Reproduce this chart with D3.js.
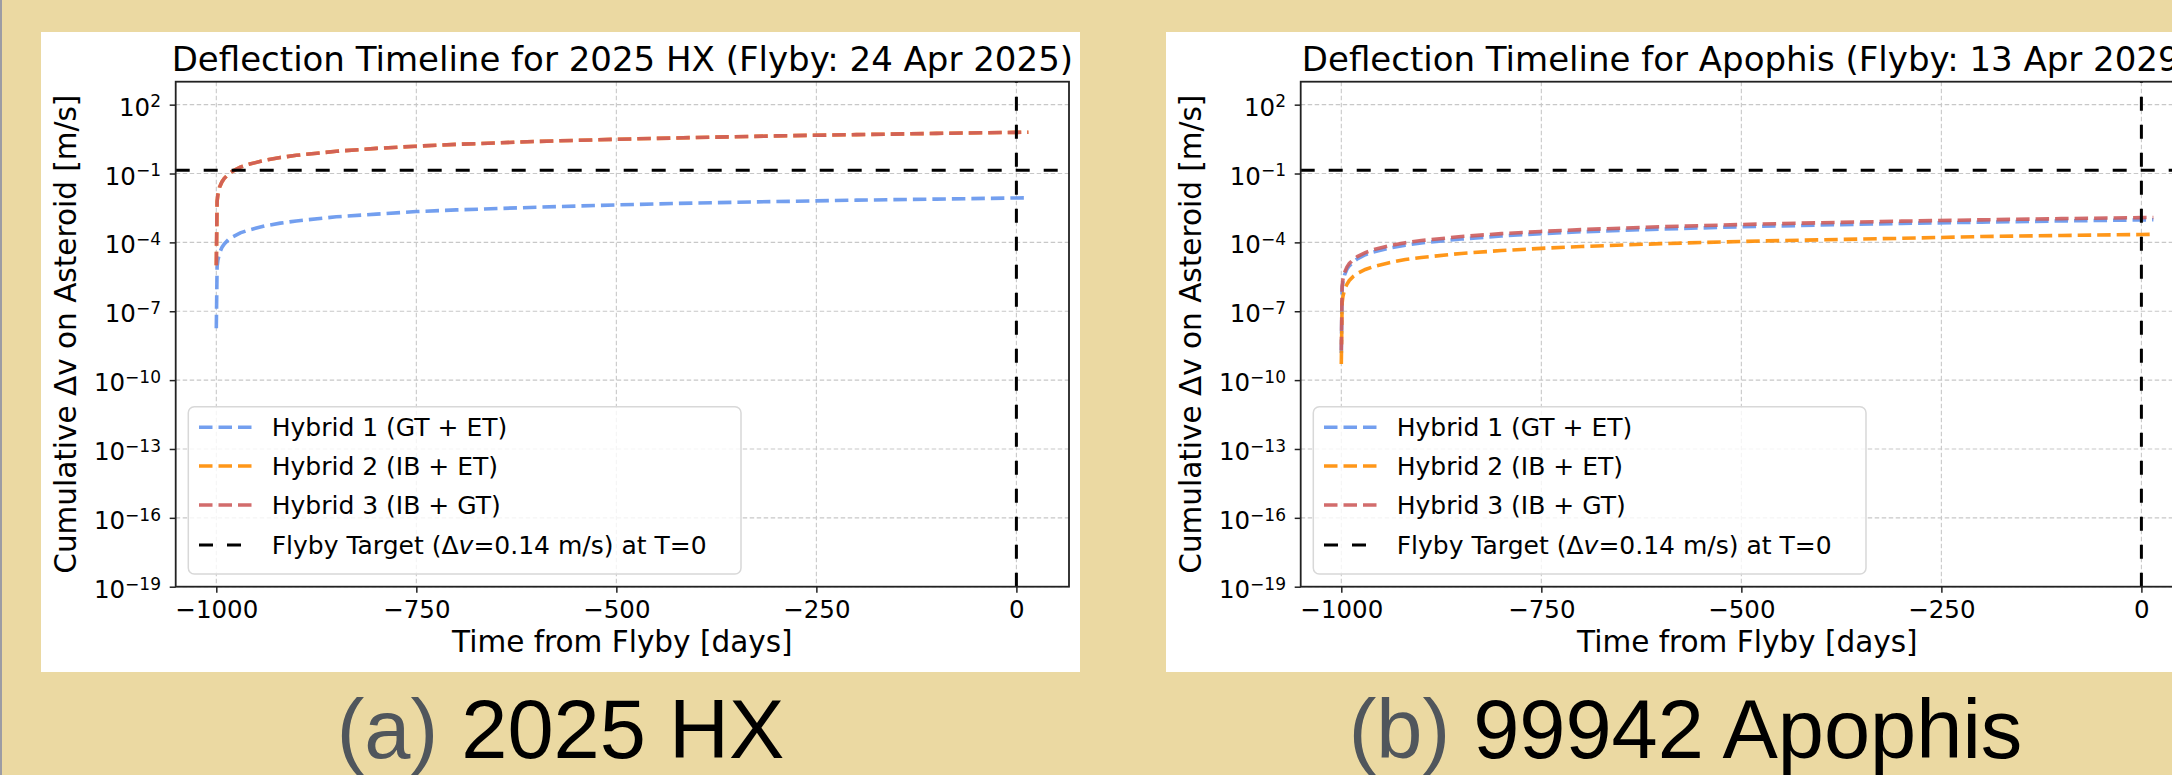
<!DOCTYPE html>
<html lang="en">
<head>
<meta charset="UTF-8">
<script src="https://d3js.org/d3.v7.min.js"></script>
<style>
  html, body { margin: 0; padding: 0; overflow: hidden; background: #ebd9a2; }
  svg { display: block; }
  text { font-family: "DejaVu Sans", sans-serif; }
</style>
</head>
<body>
<script>

// sample days (time from flyby) shared by every series
const days = [-1000, -999, -998, -996, -993, -990, -985, -980, -970, -960, -940, -920, -900,
              -850, -800, -750, -700, -600, -500, -400, -300, -200, -100, 0, 15];

// 2025 HX, cumulative dv [m/s]
const hxHybrid1 = [1.8e-8, 8.6e-6, 1.7e-5, 3.4e-5, 6e-5, 8.6e-5, 1.3e-4, 1.7e-4, 2.6e-4, 3.4e-4, 5.2e-4, 6.9e-4, 8.6e-4,
                   1.3e-3, 1.7e-3, 2.2e-3, 2.6e-3, 3.4e-3, 4.3e-3, 5.2e-3, 6.0e-3, 6.9e-3, 7.7e-3, 8.6e-3, 8.7e-3];
const hxHybrid2 = [1e-5, 6.2e-3, 1.2e-2, 2.5e-2, 4.3e-2, 6.2e-2, 9.3e-2, 0.124, 0.19, 0.25, 0.37, 0.5, 0.62,
                   0.93, 1.24, 1.55, 1.86, 2.5, 3.1, 3.7, 4.35, 4.95, 5.6, 6.2, 6.3];
const hxHybrid3 = [1e-5, 6.2e-3, 1.2e-2, 2.5e-2, 4.3e-2, 6.2e-2, 9.3e-2, 0.124, 0.19, 0.25, 0.37, 0.5, 0.62,
                   0.93, 1.24, 1.55, 1.86, 2.5, 3.1, 3.7, 4.35, 4.95, 5.6, 6.2, 6.3];

// 99942 Apophis, cumulative dv [m/s]
const apHybrid1 = [1.5e-9, 9.5e-7, 1.9e-6, 3.8e-6, 6.7e-6, 9.5e-6, 1.4e-5, 1.9e-5, 2.9e-5, 3.8e-5, 5.7e-5, 7.6e-5, 9.5e-5,
                   1.4e-4, 1.9e-4, 2.4e-4, 2.9e-4, 3.8e-4, 4.8e-4, 5.7e-4, 6.7e-4, 7.6e-4, 8.6e-4, 9.5e-4, 9.7e-4];
const apHybrid2 = [5e-10, 2.2e-7, 4.4e-7, 8.8e-7, 1.5e-6, 2.2e-6, 3.3e-6, 4.4e-6, 6.6e-6, 8.8e-6, 1.3e-5, 1.8e-5, 2.2e-5,
                   3.3e-5, 4.4e-5, 5.5e-5, 6.6e-5, 8.8e-5, 1.1e-4, 1.3e-4, 1.5e-4, 1.8e-4, 2.0e-4, 2.2e-4, 2.25e-4];
const apHybrid3 = [2e-9, 1.2e-6, 2.4e-6, 4.8e-6, 8.4e-6, 1.2e-5, 1.8e-5, 2.4e-5, 3.6e-5, 4.8e-5, 7.2e-5, 9.6e-5, 1.2e-4,
                   1.8e-4, 2.4e-4, 3.0e-4, 3.6e-4, 4.8e-4, 6.0e-4, 7.2e-4, 8.4e-4, 9.6e-4, 1.08e-3, 1.2e-3, 1.22e-3];

const seriesNames = ["Hybrid 1 (GT + ET)", "Hybrid 2 (IB + ET)", "Hybrid 3 (IB + GT)"];
const seriesColors = ["#6495ed", "#ff8c00", "#cd5c5c"];
const targetDv = 0.14;

const xTicks = [-1000, -750, -500, -250, 0];
const yTickExps = [2, -1, -4, -7, -10, -13, -16, -19];

const panels = [
  { title: "Deflection Timeline for 2025 HX (Flyby: 24 Apr 2025)", tag: "(a)", caption: " 2025 HX",
    series: [hxHybrid1, hxHybrid2, hxHybrid3] },
  { title: "Deflection Timeline for Apophis (Flyby: 13 Apr 2029)", tag: "(b)", caption: " 99942 Apophis",
    series: [apHybrid1, apHybrid2, apHybrid3] }
];

// layout
const W = 2172, H = 775;
const panelX = [41, 1166], panelY = 32, panelW = 1039, panelH = 640;
const axL = 134.7, axT = 49.7, axW = 893.3, axH = 505;

const svg = d3.select("body").append("svg").attr("width", W).attr("height", H);
svg.append("rect").attr("width", W).attr("height", H).attr("fill", "#ebd9a2");
svg.append("rect").attr("width", 2).attr("height", H).attr("fill", "#9c9ca4");

const fmtExp = e => (e < 0 ? "\u2212" + (-e) : "" + e);

panels.forEach((p, i) => {
  const g = svg.append("g").attr("transform", `translate(${panelX[i]},${panelY})`);
  g.append("rect").attr("width", panelW).attr("height", panelH).attr("fill", "#fff");

  const ax = g.append("g").attr("transform", `translate(${axL},${axT})`);

  const x = d3.scaleLinear().domain([-1050.75, 65.75]).range([0, axW]);
  const y = d3.scaleLog().domain([1e-19, 1e3]).range([axH, 0]);

  // grid
  ax.append("g").selectAll("line").data(xTicks).join("line")
    .attr("x1", d => x(d)).attr("x2", d => x(d)).attr("y1", 0).attr("y2", axH)
    .attr("stroke", "#c8c8c8").attr("stroke-width", 1.1).attr("stroke-dasharray", "4.5,2.5");
  ax.append("g").selectAll("line").data(yTickExps).join("line")
    .attr("x1", 0).attr("x2", axW).attr("y1", d => y(10 ** d)).attr("y2", d => y(10 ** d))
    .attr("stroke", "#c8c8c8").attr("stroke-width", 1.1).attr("stroke-dasharray", "4.5,2.5");

  // series
  const line = d3.line().x((d, j) => x(days[j])).y(d => y(d));
  p.series.forEach((vals, k) => {
    ax.append("path").datum(vals).attr("d", line)
      .attr("fill", "none").attr("stroke", seriesColors[k]).attr("stroke-opacity", 0.9)
      .attr("stroke-width", 3.6).attr("stroke-dasharray", "13.5,6");
  });

  // target lines
  ax.append("line").attr("x1", 0).attr("x2", axW).attr("y1", y(targetDv)).attr("y2", y(targetDv))
    .attr("stroke", "#000").attr("stroke-width", 3).attr("stroke-dasharray", "14,14");
  ax.append("line").attr("x1", x(0)).attr("x2", x(0)).attr("y1", axH).attr("y2", 0)
    .attr("stroke", "#000").attr("stroke-width", 3).attr("stroke-dasharray", "14,14");

  // axes
  const xAxis = ax.append("g").attr("transform", `translate(0,${axH})`)
    .call(d3.axisBottom(x).tickValues(xTicks).tickSize(6).tickFormat(d3.format("")));
  xAxis.selectAll("text").attr("y", 31.6).attr("dy", null)
    .style("font-size", "24.5px").style("font-family", "DejaVu Sans").attr("fill", "#000");

  const yAxis = ax.append("g")
    .call(d3.axisLeft(y).tickValues(yTickExps.map(e => 10 ** e)).tickSize(6).tickFormat(""));
  yAxis.selectAll(".tick text").each(function (d) {
    const e = Math.round(Math.log10(d));
    const t = d3.select(this).attr("x", -14.7).attr("y", 10.6).attr("dy", null)
      .style("font-family", "DejaVu Sans").attr("fill", "#000");
    t.append("tspan").style("font-size", "24.5px").text("10");
    t.append("tspan").attr("dy", -8.3).style("font-size", "17px").text(fmtExp(e));
  });

  [xAxis, yAxis].forEach(a => {
    a.select(".domain").remove();
    a.selectAll(".tick line").attr("stroke", "#222").attr("stroke-width", 1.5);
  });

  // frame
  ax.append("rect").attr("width", axW).attr("height", axH)
    .attr("fill", "none").attr("stroke", "#222").attr("stroke-width", 1.8);

  // title and labels
  ax.append("text").attr("x", axW / 2).attr("y", -11).attr("text-anchor", "middle")
    .style("font-size", "34px").text(p.title);
  ax.append("text").attr("x", axW / 2).attr("y", 570.6).attr("text-anchor", "middle")
    .style("font-size", "29.5px").text("Time from Flyby [days]");
  ax.append("text").attr("transform", `translate(-99.7,${axH / 2}) rotate(-90)`)
    .attr("text-anchor", "middle").style("font-size", "29.5px")
    .text("Cumulative \u0394v on Asteroid [m/s]");

  // legend
  const lg = ax.append("g").attr("transform", "translate(12.6,325)");
  lg.append("rect").attr("width", 552.7).attr("height", 167.3).attr("rx", 6)
    .attr("fill", "#fff").attr("fill-opacity", 0.8).attr("stroke", "#d8d8d8").attr("stroke-width", 1.5);
  const rowY = [20.6, 59.3, 98.3, 138.3];
  seriesNames.forEach((name, k) => {
    lg.append("line").attr("x1", 10.7).attr("x2", 64).attr("y1", rowY[k]).attr("y2", rowY[k])
      .attr("stroke", seriesColors[k]).attr("stroke-opacity", 0.9)
      .attr("stroke-width", 3.6).attr("stroke-dasharray", "13.5,6");
    lg.append("text").attr("x", 83.4).attr("y", rowY[k] + 9.2).style("font-size", "25px").text(name);
  });
  lg.append("line").attr("x1", 10.7).attr("x2", 64).attr("y1", rowY[3]).attr("y2", rowY[3])
    .attr("stroke", "#000").attr("stroke-width", 3).attr("stroke-dasharray", "14,14");
  const tt = lg.append("text").attr("x", 83.4).attr("y", rowY[3] + 9.2).style("font-size", "25px");
  tt.append("tspan").text("Flyby Target (\u0394");
  tt.append("tspan").style("font-style", "italic").text("v");
  tt.append("tspan").text("=0.14 m/s) at T=0");

  // caption below the panel
  const cap = g.append("text").attr("x", panelW / 2).attr("y", 726).attr("text-anchor", "middle")
    .style("font-family", "'Liberation Sans', Arial, sans-serif").style("font-size", "83px");
  cap.append("tspan").attr("fill", "#50565c").text(p.tag);
  cap.append("tspan").attr("fill", "#000").text(p.caption);
});

</script>
</body>
</html>
